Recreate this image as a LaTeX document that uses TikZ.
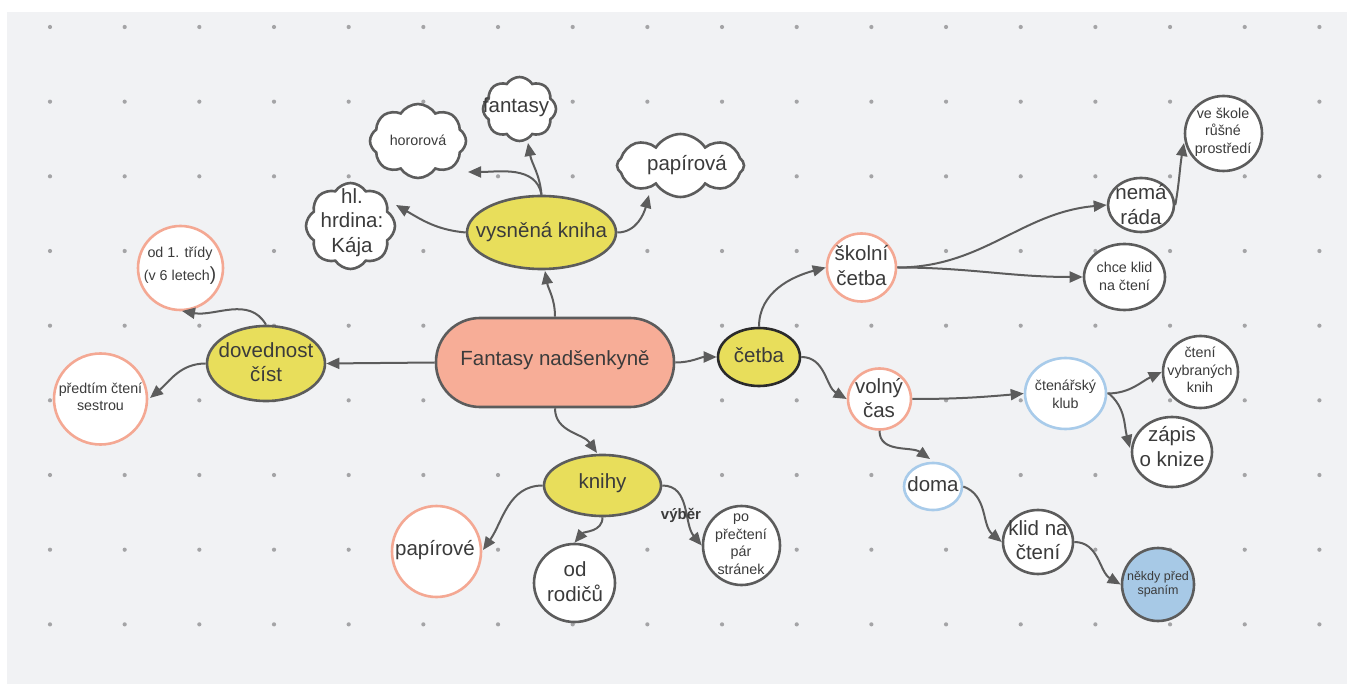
\documentclass[tikz,border=0pt]{standalone}
\usepackage{fontspec}
\setmainfont{Liberation Sans}
\usetikzlibrary{shapes.geometric,shapes.symbols,arrows.meta}

\definecolor{bgc}{HTML}{F1F2F4}
\definecolor{dotc}{HTML}{A4A4A6}
\definecolor{ink}{HTML}{3B3B3B}
\definecolor{edgec}{HTML}{5C5C5C}
\definecolor{salmfill}{HTML}{F7AD97}
\definecolor{salmline}{HTML}{F4A893}
\definecolor{yell}{HTML}{E8DE5B}
\definecolor{lblue}{HTML}{A8CBEA}
\definecolor{bfill}{HTML}{A7C9E6}
\definecolor{darkline}{HTML}{2B2B2B}

\tikzset{
  shp/.style={ellipse, line width=2.6pt, inner sep=0pt},
  dk/.style={shp, draw=edgec, fill=white},
  sal/.style={shp, draw=salmline, fill=white},
  blu/.style={shp, draw=lblue, fill=white},
  yel/.style={shp, draw=edgec, fill=yell},
  cld/.style={cloud, cloud puffs=8, cloud puff arc=115, cloud ignores aspect,
    draw=edgec, line width=2.6pt, fill=white, inner sep=0pt},
  bigtxt/.style={font=\fontsize{20.5}{24.5}\selectfont, text=ink, align=center, inner sep=0pt},
  smltxt/.style={font=\fontsize{14.3}{17.5}\selectfont, text=ink, align=center, inner sep=0pt},
  con/.style={draw=edgec, line width=2pt, -{Triangle[length=13pt,width=11pt]}},
}

\begin{document}
\begin{tikzpicture}[x=1pt,y=-1pt]
\useasboundingbox (0,0) rectangle (1347,684);
% canvas and dot grid
\fill[bgc] (7,12) rectangle (1347,684);
\foreach \i in {0,...,17}{
  \foreach \j in {0,...,8}{
    \fill[dotc] (50+74.67*\i, 27+74.67*\j) circle[radius=2.1];
  }
}

% central topic
\node[rectangle, rounded corners=44pt, draw=edgec, fill=salmfill, line width=2.6pt,
  minimum width=238pt, minimum height=89pt] (ctr) at (555,362.5) {};
\node[bigtxt] (ctr-t) at (555,360) {Fantasy nadšenkyně};

% main branches
\node[yel, minimum width=149pt, minimum height=73pt] (vys) at (541.5,232.5) {};
\node[bigtxt] (vys-t) at (541.5,232) {vysněná kniha};
\node[yel, minimum width=118pt, minimum height=75pt] (dov) at (266,363.5) {};
\node[bigtxt] (dov-t) at (266,362) {dovednost\\číst};
\node[yel, minimum width=117pt, minimum height=61pt] (kni) at (602.5,485.5) {};
\node[bigtxt] (kni-t) at (602.5,483) {knihy};
\node[shp, draw=darkline, fill=yell, minimum width=82pt, minimum height=58pt] (cet) at (759,357) {};
\node[bigtxt] (cet-t) at (759,355) {četba};

% clouds
\node[cld, minimum width=89pt, minimum height=86pt] (hrd) at (350.5,226) {};
\node[bigtxt] (hrd-t) at (352,222.5) {hl.\\hrdina:\\Kája};
\node[cld, minimum width=96pt, minimum height=74pt] (hor) at (418,141) {};
\node[smltxt] (hor-t) at (418,140) {hororová};
\node[cld, minimum width=73pt, minimum height=64pt] (fan) at (519.5,109) {};
\node[bigtxt] (fan-t) at (516,107) {fantasy};
\node[cld, minimum width=127pt, minimum height=63pt] (pap) at (680.5,165.5) {};
\node[bigtxt] (pap-t) at (687,165) {papírová};

% left side
\node[sal, minimum width=85pt, minimum height=84pt] (od1) at (180.5,268) {};
\node[smltxt, font=\fontsize{14.3}{23}\selectfont] (od1-t) at (180,266)
  {od 1. třídy\\(v 6 letech{\fontsize{19}{19}\selectfont)}};
\node[sal, minimum width=93pt, minimum height=91pt] (pre) at (100.5,399) {};
\node[smltxt] (pre-t) at (100.5,397) {předtím čtení\\sestrou};

% bottom
\node[sal, minimum width=89pt, minimum height=91pt] (ppo) at (436.5,551.5) {};
\node[bigtxt] (ppo-t) at (435,550) {papírové};
\node[dk, minimum width=81pt, minimum height=78pt] (rod) at (574.5,583) {};
\node[bigtxt] (rod-t) at (575,581.5) {od\\rodičů};
\node[dk, minimum width=77pt, minimum height=79pt] (pop) at (741.5,545.5) {};
\node[smltxt] (pop-t) at (741,544) {po\\přečtení\\pár\\stránek};

% right side
\node[sal, minimum width=69pt, minimum height=68pt] (sko) at (861.5,267.5) {};
\node[bigtxt] (sko-t) at (861.5,265.5) {školní\\četba};
\node[sal, minimum width=63pt, minimum height=61pt] (vol) at (879.5,399) {};
\node[bigtxt] (vol-t) at (879,398) {volný\\čas};
\node[dk, minimum width=66pt, minimum height=54pt] (nem) at (1141,205) {};
\node[bigtxt] (nem-t) at (1141,204.5) {nemá\\ráda};
\node[dk, minimum width=77pt, minimum height=75pt] (ves) at (1223.5,133.5) {};
\node[smltxt] (ves-t) at (1223,132) {ve škole\\růšné\\prostředí};
\node[dk, minimum width=81pt, minimum height=66pt] (chk) at (1124.5,277) {};
\node[smltxt] (chk-t) at (1124.5,276.5) {chce klid\\na čtení};
\node[blu, minimum width=81pt, minimum height=71pt] (ctk) at (1065.5,393.5) {};
\node[smltxt] (ctk-t) at (1065.5,394.5) {čtenářský\\klub};
\node[dk, minimum width=75pt, minimum height=72pt] (cvk) at (1200.5,372) {};
\node[smltxt] (cvk-t) at (1200,370) {čtení\\vybraných\\knih};
\node[dk, minimum width=80pt, minimum height=70pt] (zap) at (1172,452) {};
\node[bigtxt] (zap-t) at (1172,446.5) {zápis\\o knize};
\node[blu, minimum width=58pt, minimum height=47pt] (doma) at (933,486.5) {};
\node[bigtxt] (doma-t) at (933,484) {doma};
\node[dk, minimum width=70pt, minimum height=64pt] (kli) at (1038,542) {};
\node[bigtxt] (kli-t) at (1038,540) {klid na\\čtení};
\node[shp, draw=edgec, fill=bfill, minimum width=72pt, minimum height=73pt] (nek) at (1158,584.5) {};
\node[font=\fontsize{12.5}{14}\selectfont, text=ink, align=center, inner sep=0pt] (nek-t) at (1158,584) {někdy před\\spaním};

% connectors
\draw[con] (ctr.north) to[out=90,in=-80] ([shift={(3.5,38.5)}]vys.center);
\draw[con] (ctr.west) -- (dov.east);
\draw[con] (ctr.south) to[out=-90,in=125] ([shift={(-5.5,-32.5)}]kni.center);
\draw[con] (ctr.east) to[out=0,in=180] (cet.west);

\draw[con] (vys.north) to[out=95,in=-80] ([shift={(8.5,34)}]fan.center);
\draw[con] (vys.north) to[out=100,in=0] ([shift={(50,31)}]hor.center);
\draw[con] (vys.west) to[out=175,in=-30] ([shift={(45.5,-21)}]hrd.center);
\draw[con] (vys.east) to[out=0,in=-105] ([shift={(-31.5,29.5)}]pap.center);

\draw[con] (dov.north) to[out=120,in=-10] ([shift={(1.5,43)}]od1.center);
\draw[con] (dov.west) to[out=180,in=40] ([shift={(49.5,-1)}]pre.center);

\draw[con] (kni.west) to[out=180,in=55] ([shift={(46.5,-1.5)}]ppo.center);
\draw[con] (kni.south) to[out=-90,in=50] (rod.north);
\draw[con] (kni.east) to[out=0,in=130] (pop.west);
\node[font=\bfseries\fontsize{15}{15}\selectfont, text=ink, inner sep=0pt] (vyb) at (681,515) {výběr};

\draw[con] (cet.north) to[out=90,in=195] (sko.west);
\draw[con] (cet.east) to[out=0,in=150] (vol.west);

\draw[con] (sko.east) to[out=0,in=185] (nem.west);
\draw[con] (sko.east) to[out=0,in=180] (chk.west);
\draw[con] (nem.east) to[out=80,in=-100] ([shift={(-39.5,9.5)}]ves.center);

\draw[con] (vol.east) to[out=0,in=185] (ctk.west);
\draw[con] (vol.south) to[out=-90,in=145] ([shift={(-3,-27.5)}]doma.center);
\draw[con] (ctk.east) to[out=0,in=205] (cvk.west);
\draw[con] ([shift={(1,-0.5)}]ctk.east) to[out=-40,in=105] ([shift={(-42,-4)}]zap.center);
\draw[con] (doma.east) to[out=-20,in=140] (kli.west);
\draw[con] (kli.east) to[out=0,in=150] (nek.west);
\end{tikzpicture}
\end{document}
